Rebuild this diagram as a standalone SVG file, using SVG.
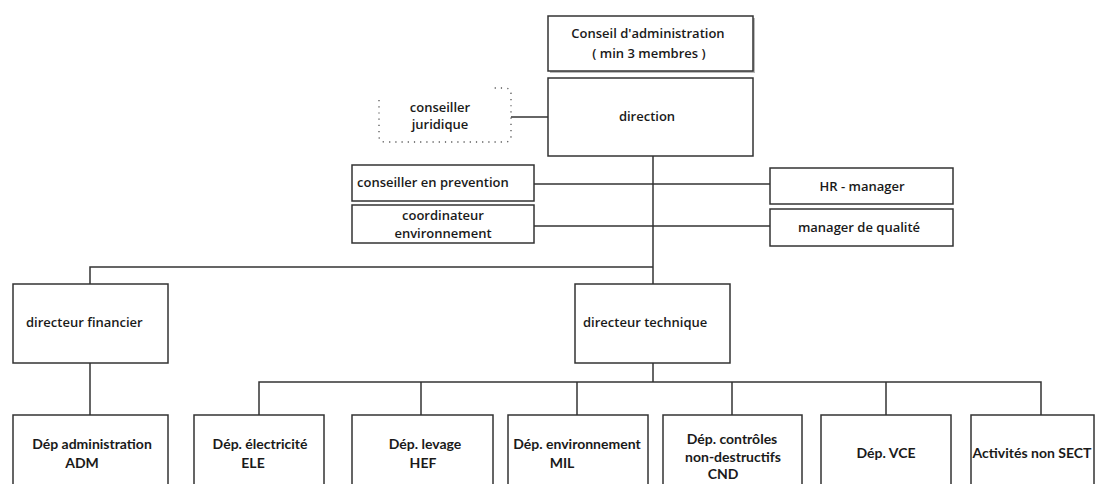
<svg xmlns="http://www.w3.org/2000/svg" width="1099" height="484" viewBox="0 0 1099 484">
<style>
.box{fill:#fff;stroke:#333;stroke-width:1.5}
.ln{fill:none;stroke:#333;stroke-width:1.5}
.t{font-family:"Open Sans","Liberation Sans",sans-serif;font-weight:600;font-size:13px;fill:#1a1a1a}
.d{font-family:Lato,"Liberation Sans",sans-serif;font-weight:700;font-size:14px;fill:#1a1a1a}
.m{text-anchor:middle}
</style>
<rect width="1099" height="484" fill="#fff"/>
<g id="connectors">
<line class="ln" x1="511" y1="117" x2="548" y2="117"/>
<line class="ln" x1="653" y1="156" x2="653" y2="284"/>
<line class="ln" x1="534" y1="184" x2="770" y2="184"/>
<line class="ln" x1="534" y1="226" x2="770" y2="226"/>
<polyline class="ln" points="653,267 90,267 90,284"/>
<line class="ln" x1="90" y1="363" x2="90" y2="415"/>
<line class="ln" x1="653" y1="363" x2="653" y2="382"/>
<polyline class="ln" points="259,415 259,382 1041,382 1041,415"/>
<line class="ln" x1="421" y1="382" x2="421" y2="415"/>
<line class="ln" x1="577" y1="382" x2="577" y2="415"/>
<line class="ln" x1="732" y1="382" x2="732" y2="415"/>
<line class="ln" x1="886" y1="382" x2="886" y2="415"/>
</g>
<g id="conseil">
<rect x="550" y="18" width="205" height="55" fill="#bbb"/>
<rect class="box" x="548" y="16" width="205" height="55"/>
<text class="t m" x="648" y="38">Conseil d'administration</text>
<text class="t m" x="649" y="58">( min 3 membres )</text>
</g>
<g id="direction">
<rect class="box" x="548" y="78" width="205" height="78"/>
<text class="t m" x="647" y="121">direction</text>
</g>
<g id="juridique">
<path d="M379 100 L379 136 Q379 142 385 142 L505 142 Q511 142 511 136 L511 94 Q511 88 505 88 L493 88" fill="none" stroke="#555" stroke-width="1.3" stroke-dasharray="1.2 5"/>
<text class="t m" x="440" y="112">conseiller</text>
<text class="t m" x="440" y="129">juridique</text>
</g>
<g id="prevention">
<rect class="box" x="352" y="165" width="182" height="36"/>
<text class="t" x="357" y="187">conseiller en prevention</text>
</g>
<g id="coordinateur">
<rect class="box" x="352" y="205" width="182" height="38"/>
<text class="t m" x="443" y="220">coordinateur</text>
<text class="t m" x="443" y="238">environnement</text>
</g>
<g id="hr">
<rect class="box" x="770" y="168" width="183" height="36"/>
<text class="t m" x="862" y="191">HR - manager</text>
</g>
<g id="qualite">
<rect class="box" x="770" y="209" width="183" height="37"/>
<text class="t m" x="859" y="232">manager de qualité</text>
</g>
<g id="dir-financier">
<rect class="box" x="13" y="284" width="155" height="79"/>
<text class="t" x="26" y="327">directeur financier</text>
</g>
<g id="dir-technique">
<rect class="box" x="575" y="284" width="155" height="79"/>
<text class="t" x="583" y="327">directeur technique</text>
</g>
<g id="adm">
<rect class="box" x="13" y="415" width="155" height="80"/>
<text class="d m" x="92" y="449">Dép administration</text>
<text class="d m" x="82" y="468">ADM</text>
</g>
<g id="ele">
<rect class="box" x="194" y="415" width="130" height="80"/>
<text class="d m" x="260" y="449">Dép. électricité</text>
<text class="d m" x="253" y="468">ELE</text>
</g>
<g id="hef">
<rect class="box" x="352" y="415" width="141" height="80"/>
<text class="d m" x="425" y="449">Dép. levage</text>
<text class="d m" x="423" y="468">HEF</text>
</g>
<g id="mil">
<rect class="box" x="508" y="415" width="140" height="80"/>
<text class="d m" x="577" y="449">Dép. environnement</text>
<text class="d m" x="562" y="468">MIL</text>
</g>
<g id="cnd">
<rect class="box" x="663" y="415" width="139" height="80"/>
<text class="d m" x="732" y="444">Dép. contrôles</text>
<text class="d m" x="733" y="462">non-destructifs</text>
<text class="d m" x="723" y="479">CND</text>
</g>
<g id="vce">
<rect class="box" x="821" y="415" width="130" height="80"/>
<text class="d m" x="886" y="458">Dép. VCE</text>
</g>
<g id="sect">
<rect class="box" x="971" y="415" width="123" height="80"/>
<text class="d m" x="1032" y="458">Activités non SECT</text>
</g>
</svg>
